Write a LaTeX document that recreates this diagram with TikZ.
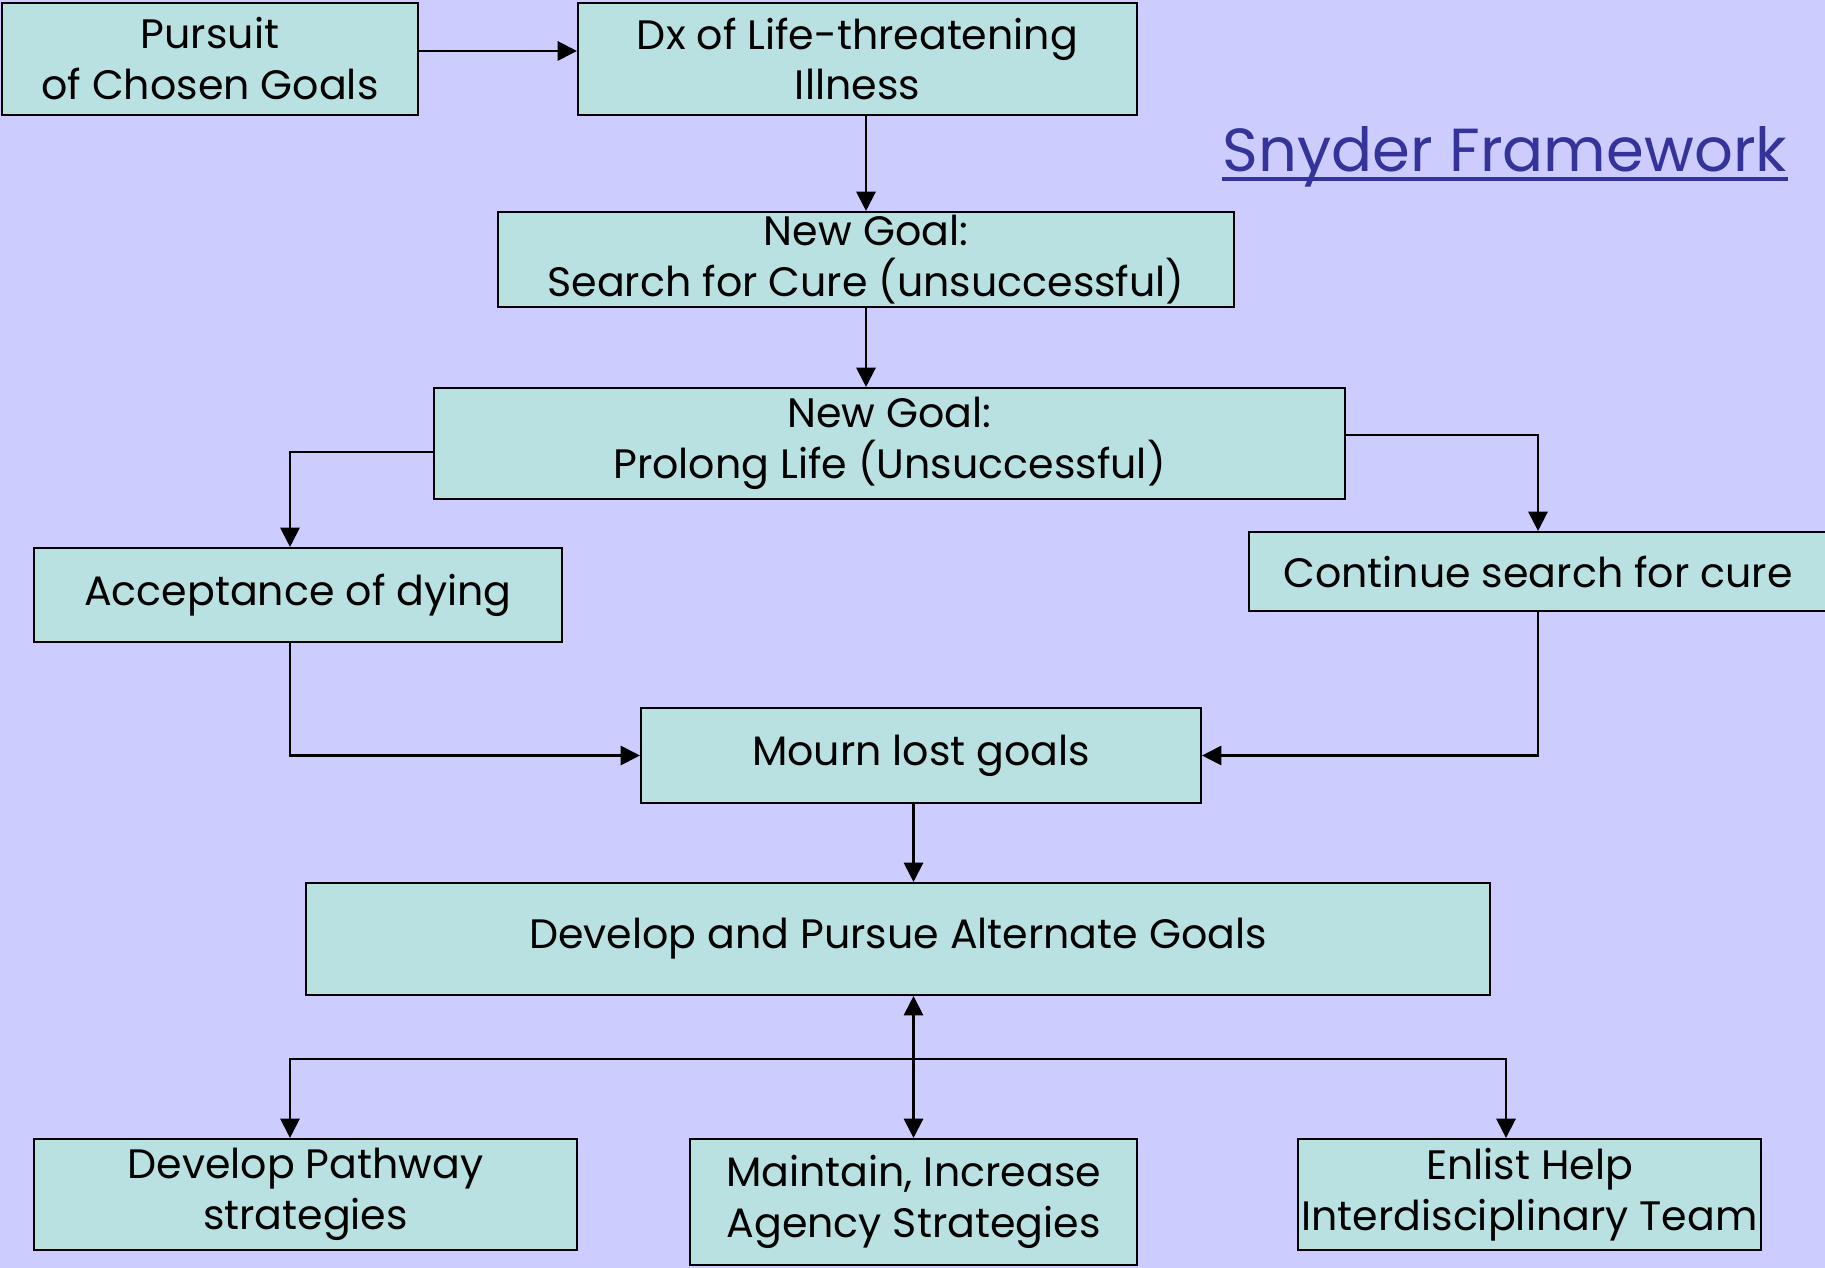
\documentclass[tikz,border=0pt]{standalone}
\usepackage{fontspec}
\setmainfont{Poppins}
\usepackage{tikz}
\usetikzlibrary{arrows.meta, calc, positioning}
\definecolor{slidebg}{HTML}{CCCCFF}
\definecolor{boxfill}{HTML}{B9E1E1}
\definecolor{titleblue}{HTML}{333399}
\tikzstyle{block} = [rectangle, line width=0.6pt, fill=boxfill, draw=black, text centered, align=center, inner sep=0pt, font=\fontsize{11.7}{14.5}\selectfont]
\tikzstyle{arrow} = [line width=0.6pt, -{Triangle[length=5.5pt,width=5.5pt]}]
\tikzstyle{link} = [line width=0.6pt]

\begin{document}
\begin{tikzpicture}
		\fill[slidebg] (0,0) rectangle (18.25,-12.68);
		\useasboundingbox (0,0) rectangle (18.25,-12.68);
		\node (Pursuit) [block, minimum width=4.16cm, minimum height=1.12cm] at (2.10,-0.59) {Pursuit\\of Chosen Goals};
		\node (Dx) [block, minimum width=5.59cm, minimum height=1.12cm] at (8.575,-0.59) {Dx of Life-threatening\\Illness};
		\node (Title) [anchor=base, inner sep=0pt, text=titleblue, font=\fontsize{17.3}{20}\selectfont] at (15.05,-1.72) {Snyder Framework};
		\draw [titleblue, line width=1.1pt] ($(Title.base west)+(0,-0.07)$) -- ($(Title.base east)+(0,-0.07)$);
		\node (Cure) [block, minimum width=7.36cm, minimum height=0.95cm] at (8.66,-2.595) {New Goal:\\Search for Cure (unsuccessful)};
		\node (Prolong) [block, minimum width=9.11cm, minimum height=1.11cm] at (8.895,-4.435) {New Goal:\\Prolong Life (Unsuccessful)};
		\node (Accept) [block, minimum width=5.28cm, minimum height=0.94cm] at (2.98,-5.95) {Acceptance of dying};
		\node (Continue) [block, minimum width=5.78cm, minimum height=0.79cm] at (15.38,-5.715) {Continue search for cure};
		\node (Mourn) [block, minimum width=5.60cm, minimum height=0.95cm] at (9.21,-7.555) {Mourn lost goals};
		\node (Alternate) [block, minimum width=11.84cm, minimum height=1.12cm] at (8.98,-9.39) {Develop and Pursue Alternate Goals};
		\node (Pathway) [block, minimum width=5.43cm, minimum height=1.11cm] at (3.055,-11.945) {Develop Pathway\\strategies};
		\node (Agency) [block, minimum width=4.47cm, minimum height=1.26cm] at (9.135,-12.02) {Maintain, Increase\\Agency Strategies};
		\node (Enlist) [block, minimum width=4.63cm, minimum height=1.11cm] at (15.295,-11.945) {Enlist Help\\Interdisciplinary Team};
		\coordinate (Bus) at (9.135,-10.59);
		\draw [arrow] ([yshift=0.08cm]Pursuit.east) -- ([yshift=0.08cm]Pursuit.east -| Dx.west);
		\draw [arrow] (Cure.north |- Dx.south) -- (Cure.north);
		\draw [arrow] (Cure.south) -- (Cure.south |- Prolong.north);
		\draw [arrow] ([yshift=-0.085cm]Prolong.west) -| ([xshift=-0.08cm]Accept.north);
		\draw [arrow] ([yshift=0.085cm]Prolong.east) -| (Continue.north);
		\draw [arrow] ([xshift=-0.08cm]Accept.south) |- (Mourn.west);
		\draw [arrow] (Continue.south) |- (Mourn.east);
		\draw [arrow] (Agency.north |- Mourn.south) -- (Agency.north |- Alternate.north);
		\draw [link, {Triangle[length=5.5pt,width=5.5pt]}-{Triangle[length=5.5pt,width=5.5pt]}] (Agency.north |- Alternate.south) -- (Agency.north);
		\draw [arrow] (Bus) -| ([xshift=-0.155cm]Pathway.north);
		\draw [arrow] (Bus) -| ([xshift=-0.235cm]Enlist.north);
	\end{tikzpicture}
\end{document}
